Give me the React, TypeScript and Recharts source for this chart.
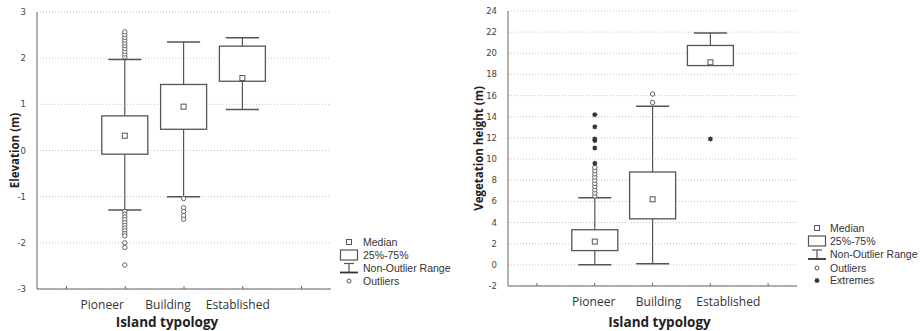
import React from "react";
import { ComposedChart, Bar, XAxis, YAxis, CartesianGrid } from "recharts";

const typology = ["Pioneer", "Building", "Established"];

// Elevation (m)
const elevMedian = [0.32, 0.95, 1.57];
const elevQ1 = [-0.08, 0.46, 1.5];
const elevQ3 = [0.75, 1.43, 2.26];
const elevMin = [-1.29, -1.0, 0.89];
const elevMax = [1.97, 2.35, 2.44];
const elevOutliers = [
  [2.03, 2.09, 2.15, 2.21, 2.27, 2.33, 2.39, 2.45, 2.51, 2.57,
   -1.32, -1.38, -1.44, -1.5, -1.56, -1.62, -1.68, -1.74, -1.8, -1.85, -2.0, -2.1, -2.48],
  [-1.04, -1.24, -1.32, -1.41, -1.49],
  [],
];
const elevExtremes = [[], [], []];
const elevTicks = [-3, -2, -1, 0, 1, 2, 3];

// Vegetation height (m)
const vegMedian = [2.2, 6.2, 19.15];
const vegQ1 = [1.35, 4.35, 18.84];
const vegQ3 = [3.32, 8.78, 20.74];
const vegMin = [0, 0.1, 18.84];
const vegMax = [6.35, 15.0, 21.93];
const vegOutliers = [
  [6.5, 6.8, 7.1, 7.4, 7.7, 8.0, 8.3, 8.6, 8.9, 9.2],
  [15.35, 16.15],
  [],
];
const vegExtremes = [[9.6, 11.05, 11.75, 11.9, 13.05, 14.2], [], [11.9]];
const vegTicks = [-2, 0, 2, 4, 6, 8, 10, 12, 14, 16, 18, 20, 22, 24];

const INK = "#555";

function buildRows(med: number[], q1: number[], q3: number[], lo: number[], hi: number[], out: number[][], ext: number[][]) {
  const rows = typology.map((name, i) => ({
    name,
    range: [lo[i], hi[i]],
    median: med[i],
    q1: q1[i],
    q3: q3[i],
    outliers: out[i],
    extremes: ext[i],
  }));
  return [{ name: "padL" }, ...rows, { name: "padR" }];
}

const elevRows = buildRows(elevMedian, elevQ1, elevQ3, elevMin, elevMax, elevOutliers, elevExtremes);
const vegRows = buildRows(vegMedian, vegQ1, vegQ3, vegMin, vegMax, vegOutliers, vegExtremes);

const Star = ({ cx, cy }: { cx: number; cy: number }) => (
  <g stroke="#333" strokeWidth={1.1}>
    <line x1={cx - 2.5} x2={cx + 2.5} y1={cy} y2={cy} />
    <line x1={cx} x2={cx} y1={cy - 2.5} y2={cy + 2.5} />
    <line x1={cx - 1.8} x2={cx + 1.8} y1={cy - 1.8} y2={cy + 1.8} />
    <line x1={cx - 1.8} x2={cx + 1.8} y1={cy + 1.8} y2={cy - 1.8} />
    <circle cx={cx} cy={cy} r={1.3} fill="#333" />
  </g>
);

// box + whiskers drawn from the bar's [min, max] range pixels
const BoxShape = (props: any) => {
  const { x, y, width, height, payload } = props;
  if (!payload || !payload.range) return null;
  const top = Math.min(y, y + height);
  const bottom = Math.max(y, y + height);
  const [lo, hi] = payload.range;
  const py = (v: number) => bottom - ((v - lo) / (hi - lo)) * (bottom - top);
  const cx = x + width / 2;
  const cap = width * 0.36;
  const boxTop = py(payload.q3);
  const boxBot = py(payload.q1);
  const m = py(payload.median);
  return (
    <g>
      <line x1={cx} x2={cx} y1={py(hi)} y2={boxTop} stroke={INK} strokeWidth={1.2} />
      <line x1={cx - cap} x2={cx + cap} y1={py(hi)} y2={py(hi)} stroke={INK} strokeWidth={1.5} />
      {lo < payload.q1 && (
        <>
          <line x1={cx} x2={cx} y1={boxBot} y2={py(lo)} stroke={INK} strokeWidth={1.2} />
          <line x1={cx - cap} x2={cx + cap} y1={py(lo)} y2={py(lo)} stroke={INK} strokeWidth={1.5} />
        </>
      )}
      <rect x={x} y={boxTop} width={width} height={boxBot - boxTop} fill="#fff" stroke={INK} strokeWidth={1.3} />
      <rect x={cx - 2.5} y={m - 2.5} width={5} height={5} fill="#fff" stroke={INK} strokeWidth={1} />
      {payload.outliers.map((v: number, i: number) => (
        <circle key={"o" + i} cx={cx} cy={py(v)} r={2.2} fill="#fff" stroke={INK} strokeWidth={0.9} />
      ))}
      {payload.extremes.map((v: number, i: number) => (
        <Star key={"e" + i} cx={cx} cy={py(v)} />
      ))}
    </g>
  );
};

const makeTick = (shift: number[]) => (props: any) => {
  const { x, y, payload } = props;
  const idx = typology.indexOf(payload.value);
  if (idx < 0) return <g />;
  return (
    <text x={x + shift[idx]} y={y} dy="0.71em" textAnchor="middle" fontFamily="Open Sans" fontSize={12} fill="#333">
      {payload.value}
    </text>
  );
};

const NoTick = () => <g />;

type BoxChartProps = {
  rows: any[];
  ticks: number[];
  yTitle: string;
  margin: { top: number; right: number; left: number; bottom: number };
  yWidth: number;
  xHeight: number;
  labelShift: number[];
  titleDx: number;
  yTitleOffset: number;
};

const BoxChart = ({ rows, ticks, yTitle, margin, yWidth, xHeight, labelShift, titleDx, yTitleOffset }: BoxChartProps) => {
  const domain = [ticks[0], ticks[ticks.length - 1]];
  return (
    <ComposedChart width={340} height={331} data={rows} margin={margin}>
      <CartesianGrid vertical={false} stroke="#c4c4c4" strokeDasharray="1 2" />
      <XAxis
        dataKey="name"
        height={xHeight}
        stroke="#666"
        tickSize={-3}
        tickMargin={14}
        tick={makeTick(labelShift)}
        interval={0}
        label={{
          value: "Island typology",
          position: "insideBottom",
          offset: 4,
          dx: titleDx,
          style: { fontFamily: "Open Sans", fontWeight: 700, fontSize: 13.5, fill: "#222" },
        }}
      />
      <XAxis xAxisId="top" dataKey="name" orientation="top" height={0} mirror stroke="#666" tickSize={3} tick={NoTick} interval={0} />
      <YAxis
        type="number"
        domain={domain}
        ticks={ticks}
        allowDataOverflow
        width={yWidth}
        stroke="#666"
        tickLine={false}
        tickMargin={5}
        interval={0}
        tick={{ fontFamily: "DejaVu Sans", fontSize: 8.5, fill: "#444" }}
        label={{
          value: yTitle,
          angle: -90,
          position: "insideLeft",
          offset: yTitleOffset,
          style: { textAnchor: "middle", fontFamily: "Open Sans", fontWeight: 700, fontSize: 11.5, fill: "#222" },
        }}
      />
      <YAxis yAxisId="right" orientation="right" type="number" domain={domain} ticks={ticks} allowDataOverflow width={0} mirror stroke="#666" tickSize={3} tick={NoTick} interval={0} />
      <Bar dataKey="range" barSize={46} shape={BoxShape} isAnimationActive={false} />
    </ComposedChart>
  );
};

const legendFont = { fontFamily: "Liberation Sans", fontSize: 10.5, fill: "#333" };

const LegendBlock = ({ sx, tx, ys, extremes }: { sx: number; tx: number; ys: number[]; extremes: boolean }) => (
  <g>
    <rect x={sx - 2.5} y={ys[0] - 2.5} width={5} height={5} fill="#fff" stroke={INK} />
    <text x={tx} y={ys[0]} dy="0.35em" {...legendFont}>Median</text>
    <rect x={sx - 8.5} y={ys[1] - 5} width={17} height={10} fill="#fff" stroke={INK} strokeWidth={1.2} />
    <text x={tx} y={ys[1]} dy="0.35em" {...legendFont}>25%-75%</text>
    <line x1={sx - 5} x2={sx + 5} y1={ys[2] - 4.5} y2={ys[2] - 4.5} stroke={INK} strokeWidth={1.2} />
    <line x1={sx} x2={sx} y1={ys[2] - 4.5} y2={ys[2] + 4.5} stroke={INK} strokeWidth={1.2} />
    <line x1={sx - 9} x2={sx + 9} y1={ys[2] + 4.5} y2={ys[2] + 4.5} stroke="#333" strokeWidth={1.8} />
    <text x={tx} y={ys[2]} dy="0.35em" {...legendFont}>Non-Outlier Range</text>
    <circle cx={sx} cy={ys[3]} r={2} fill="#fff" stroke={INK} />
    <text x={tx} y={ys[3]} dy="0.35em" {...legendFont}>Outliers</text>
    {extremes && (
      <>
        <Star cx={sx} cy={ys[4]} />
        <text x={tx} y={ys[4]} dy="0.35em" {...legendFont}>Extremes</text>
      </>
    )}
  </g>
);

export default function App() {
  return (
    <div style={{ position: "absolute", left: 0, top: 0, width: 922, height: 331, background: "#fff" }}>
      <div style={{ position: "absolute", left: 0, top: 0 }}>
        <BoxChart
          rows={elevRows}
          ticks={elevTicks}
          yTitle="Elevation (m)"
          margin={{ top: 12, right: 9, left: 0, bottom: 0 }}
          yWidth={37}
          xHeight={42}
          labelShift={[-23, -16, -5]}
          titleDx={-17}
          yTitleOffset={15}
        />
      </div>
      <div style={{ position: "absolute", left: 460, top: 0 }}>
        <BoxChart
          rows={vegRows}
          ticks={vegTicks}
          yTitle="Vegetation height (m)"
          margin={{ top: 11, right: 3, left: 0, bottom: 0 }}
          yWidth={48}
          xHeight={45}
          labelShift={[-1, 6, 18]}
          titleDx={7}
          yTitleOffset={19}
        />
      </div>
      <svg width={922} height={331} style={{ position: "absolute", left: 0, top: 0, pointerEvents: "none" }}>
        <LegendBlock sx={349} tx={363} ys={[242, 255, 268, 281]} extremes={false} />
        <LegendBlock sx={817} tx={830} ys={[228, 241, 254.5, 268, 280.5]} extremes={true} />
      </svg>
    </div>
  );
}
